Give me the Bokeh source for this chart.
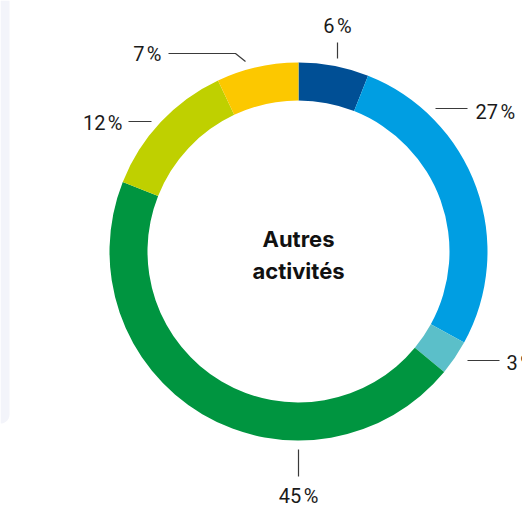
import numpy as np
from bokeh.plotting import figure
from bokeh.models import Range1d, ColumnDataSource
from bokeh.core.properties import value
from bokeh.embed import file_html
from bokeh.resources import INLINE

# ---- data ----
categories = ["Cat 1", "Cat 2", "Cat 3", "Cat 4", "Cat 5", "Cat 6"]
shares = [6, 27, 3, 45, 12, 7]
labels = ["6\u202f%", "27\u202f%", "3\u202f%", "45\u202f%", "12\u202f%", "7\u202f%"]
colors = ["#004f95", "#009ee2", "#5bbfc9", "#009540", "#bfd000", "#fcc800"]
center_title = ["Autres", "activités"]

W, H = 522, 506
p = figure(width=W, height=H, output_backend="svg", toolbar_location=None,
           x_range=Range1d(0, W), y_range=Range1d(0, H), min_border=0)
p.axis.visible = False
p.grid.visible = False
p.outline_line_color = None
p.background_fill_color = "white"
p.border_fill_color = "white"

# picture coords (top-left origin) -> data coords
def px(x):
    return x
def py(y):
    return H - y

# decorative light panel at left edge
t = np.linspace(0, np.pi / 2, 12)
pr = 9
panel_x = [0, 9] + list(9 - pr + pr * np.cos(t)) + [0]
panel_y = [0, 0] + list(414 + pr * np.sin(t)) + [423]
p.patch([px(v) for v in panel_x], [py(v) for v in panel_y],
        fill_color="#f3f4fa", line_color=None)

cx, cy = px(298), py(251)
r_out, r_in = 189, 151

vals = np.array(shares, dtype=float)
frac = vals / vals.sum()
cum_end = np.cumsum(frac)
cum_start = cum_end - frac
start = np.pi / 2 - cum_start * 2 * np.pi
end = np.pi / 2 - cum_end * 2 * np.pi

src = ColumnDataSource(dict(cat=categories, start=start, end=end, color=colors))
p.annular_wedge(x=cx, y=cy, inner_radius=r_in, outer_radius=r_out,
                start_angle="start", end_angle="end", direction="clock",
                fill_color="color", line_color=None, source=src)

# ---- label layout (leader lines + text anchors, picture coords) ----
layout = [
    # (line xs, line ys, text x, text y, align)
    ([337, 337], [42, 58], 337, 25, "center"),
    ([435, 467], [108, 108], 475, 111, "left"),
    ([467, 499], [360, 360], 506, 362, "left"),
    ([298, 298], [449, 476], 298, 495, "center"),
    ([128, 151], [121, 121], 122, 122, "right"),
    ([168, 235, 245], [53, 53, 61], 161, 53, "right"),
]
for (lx, ly, tx, ty, al), lab in zip(layout, labels):
    p.line([px(v) for v in lx], [py(v) for v in ly], line_color="#3a3a3a", line_width=1.2)
    p.text([px(tx)], [py(ty)], text=[lab], text_align=al, text_baseline="middle",
           text_font=value("Roboto"), text_font_size="20px", text_color="#1a1a1a")

p.text([cx, cx], [py(238), py(270)], text=center_title, text_align="center",
       text_baseline="middle", text_font=value("Inter"), text_font_style="bold",
       text_font_size="22px", text_color="#111111")

open("out.html", "w").write(file_html(p, INLINE))
